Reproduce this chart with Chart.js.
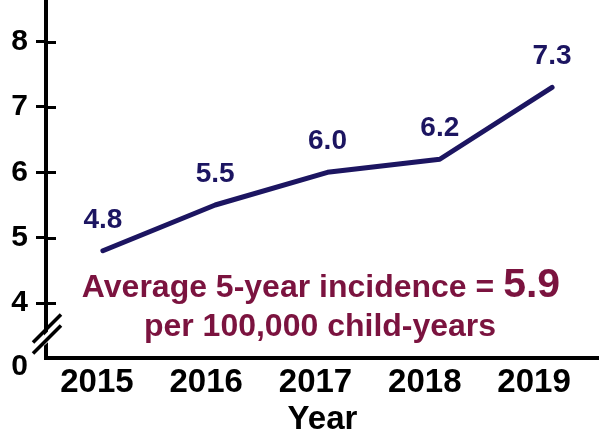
<!DOCTYPE html>
<html><head><meta charset="utf-8">
<script src="https://cdn.jsdelivr.net/npm/chart.js@4.4.0/dist/chart.umd.min.js"></script>
<style>html,body{margin:0;padding:0;background:#fff;overflow:hidden}</style>
</head><body>
<canvas id="c" width="599" height="429"></canvas>
<script>
// ---- data ----
const years = ['2015', '2016', '2017', '2018', '2019'];
const incidence = [4.8, 5.5, 6.0, 6.2, 7.3];
const yTickValues = [4, 5, 6, 7, 8];
const yBreakLabel = '0';
const xAxisTitle = 'Year';
const averageValue = 5.9;
const noteLine1 = 'Average 5-year incidence = ';
const noteLine2 = 'per 100,000 child-years';

// ---- styles ----
const FONT = "'Liberation Sans', Arial, sans-serif";
const NAVY = '#1c1561';
const MAROON = '#7b133f';
const Y_MIN = 3.16, Y_MAX = 8.238;
const BREAK_TICK = Y_MIN - 0.14;

const decor = {
  id: 'decor',
  afterDraw(chart) {
    const ctx = chart.ctx, ca = chart.chartArea, ys = chart.scales.y;
    ctx.save();
    // extend y axis line to top
    ctx.strokeStyle = '#000'; ctx.lineWidth = 4; ctx.lineCap = 'butt';
    ctx.beginPath(); ctx.moveTo(ca.left, 0); ctx.lineTo(ca.left, ca.top + 1); ctx.stroke();
    // inner tick marks
    ctx.lineWidth = 3;
    yTickValues.forEach(v => {
      const y = Math.round(ys.getPixelForValue(v)) + 0.5;
      ctx.beginPath(); ctx.moveTo(ca.left, y); ctx.lineTo(ca.left + 10, y); ctx.stroke();
    });
    // axis break
    const y4 = ys.getPixelForValue(4), yb = ca.bottom;
    const mid = (y4 + yb) / 2 + 4;
    const x0 = ca.left;
    ctx.fillStyle = '#fff';
    ctx.beginPath();
    ctx.moveTo(x0 - 4, mid + 3); ctx.lineTo(x0 + 4, mid - 5);
    ctx.lineTo(x0 + 4, mid + 6); ctx.lineTo(x0 - 4, mid + 13);
    ctx.closePath(); ctx.fill();
    ctx.strokeStyle = '#000'; ctx.lineWidth = 3.5;
    [-5, 6].forEach(d => {
      ctx.beginPath();
      ctx.moveTo(x0 - 13, mid + d + 13);
      ctx.lineTo(x0 + 15, mid + d - 15);
      ctx.stroke();
    });
    // data labels
    const meta = chart.getDatasetMeta(0);
    ctx.fillStyle = NAVY;
    ctx.font = 'bold 28px ' + FONT;
    ctx.textAlign = 'center'; ctx.textBaseline = 'alphabetic';
    meta.data.forEach((pt, i) => {
      ctx.fillText(incidence[i].toFixed(1), pt.x, pt.y - 23);
    });
    // annotation
    ctx.fillStyle = MAROON;
    const f1 = 'bold 32px ' + FONT, f2 = 'bold 41px ' + FONT;
    ctx.font = f1; const w1 = ctx.measureText(noteLine1).width;
    ctx.font = f2; const valTxt = averageValue.toFixed(1); const w2 = ctx.measureText(valTxt).width;
    const cx = 321, startX = cx - (w1 + w2) / 2;
    ctx.textAlign = 'left';
    ctx.font = f1; ctx.fillText(noteLine1, startX, 297);
    ctx.font = f2; ctx.fillText(valTxt, startX + w1, 297);
    ctx.textAlign = 'center';
    ctx.font = f1; ctx.fillText(noteLine2, 320, 336);
    ctx.restore();
  }
};

new Chart(document.getElementById('c'), {
  type: 'line',
  data: {
    datasets: [{
      data: incidence.map((v, i) => ({ x: i, y: v })),
      borderColor: NAVY,
      borderWidth: 5,
      borderCapStyle: 'round',
      borderJoinStyle: 'round',
      pointRadius: 0,
      tension: 0,
      fill: false,
      clip: false
    }]
  },
  options: {
    responsive: false,
    animation: false,
    devicePixelRatio: 1,
    layout: { padding: { left: 3.3, right: 0, top: 0, bottom: -7 } },
    plugins: { legend: { display: false }, tooltip: { enabled: false }, title: { display: false } },
    scales: {
      x: { type: 'linear', display: false, min: -0.507, max: 4.418 },
      xl: {
        type: 'linear', position: 'bottom', min: -0.466, max: 4.594,
        afterBuildTicks: s => { s.ticks = years.map((_, i) => ({ value: i })); },
        ticks: {
          autoSkip: false, maxRotation: 0, padding: 8,
          callback: (v) => years[Math.round(v)],
          font: { family: FONT, size: 33, weight: 'bold', lineHeight: 1 },
          color: '#000'
        },
        grid: { display: false, drawTicks: false },
        border: { display: true, width: 4, color: '#000' },
        title: {
          display: true, text: xAxisTitle, color: '#000',
          font: { family: FONT, size: 33, weight: 'bold', lineHeight: 1 },
          padding: { top: -4, bottom: 0 }
        }
      },
      y: {
        type: 'linear', position: 'left', min: Y_MIN, max: Y_MAX,
        afterBuildTicks: s => {
          s.ticks = [{ value: BREAK_TICK }].concat(yTickValues.map(v => ({ value: v })));
        },
        ticks: {
          autoSkip: false, padding: 8,
          callback: (v) => (v < 3.5 ? yBreakLabel : String(v)),
          font: { family: FONT, size: 30, weight: 'bold' },
          color: '#000'
        },
        grid: {
          drawOnChartArea: false, drawTicks: true, tickLength: 10,
          lineWidth: c => (c.tick && c.tick.value < 3.5 ? 0 : 3),
          color: c => (c.tick && c.tick.value < 3.5 ? 'rgba(0,0,0,0)' : '#000')
        },
        border: { display: true, width: 4, color: '#000' }
      }
    }
  },
  plugins: [decor]
});
</script>
</body></html>
